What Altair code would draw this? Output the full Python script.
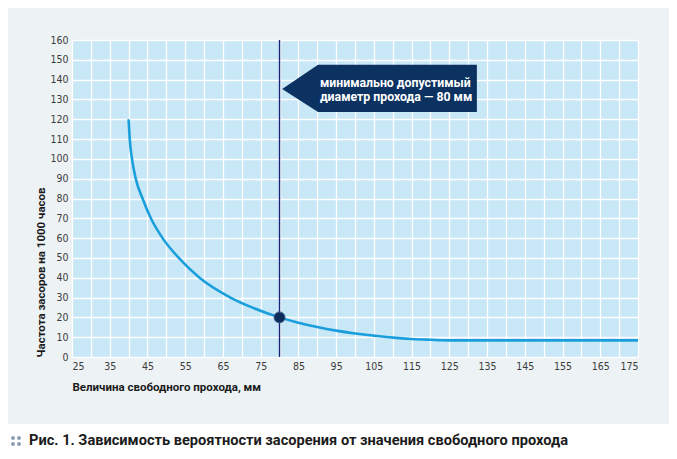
import altair as alt
import pandas as pd

# curve (mm -> clogs per 1000 h)
x_mm = [40, 40.3, 40.9, 41.9, 43.7, 45.9, 49, 53.3, 58.8, 67, 73, 80,
        85, 90, 95, 100, 105, 110, 115, 120, 125, 135, 145, 155, 165, 175]
freq = [120, 110, 100, 90, 80, 70, 60, 50, 40, 30, 24.8, 20,
        17.3, 15.1, 13.3, 11.9, 10.8, 9.8, 9.1, 8.7, 8.4, 8.4, 8.4, 8.4, 8.4, 8.4]

min_x = [80]
min_y = [20]

# callout arrow (tip, box corner, box end) in data units
arrow_x = [80.7, 90.2, 132.3]
arrow_top = [135.3, 147.5, 147.5]
arrow_bottom = [135.3, 123.7, 123.7]
note_lines = ["минимально допустимый", "диаметр прохода — 80 мм"]
note_x = [90.7, 90.7]
note_y = [138.3, 131.2]

x_ticks = list(range(25, 176, 5))
y_ticks = list(range(0, 161, 10))

caption = "Рис. 1. Зависимость вероятности засорения от значения свободного прохода"

NARROW = "Liberation Sans Narrow, DejaVu Sans Condensed, Roboto, sans-serif"

curve_df = pd.DataFrame({"x": x_mm, "y": freq})
min_df = pd.DataFrame({"x": min_x, "y": min_y})
arrow_df = pd.DataFrame({"x": arrow_x, "top": arrow_top, "bottom": arrow_bottom})
note_df = pd.DataFrame({"x": note_x, "y": note_y, "t": note_lines})
one = pd.DataFrame({"a": [0]})

xs = alt.Scale(domain=[25, 175], nice=False, zero=False)
ys = alt.Scale(domain=[0, 160], nice=False)

x_axis = alt.Axis(
    values=x_ticks,
    labelExpr="datum.value % 10 == 5 ? datum.label : ''",
    title="Величина свободного прохода, мм",
    titleAnchor="start",
    titlePadding=10,
)
y_axis = alt.Axis(
    values=y_ticks,
    title="Частота засоров на 1000 часов",
    titleAnchor="start",
    titlePadding=3,
)

X = lambda f: alt.X(f, scale=xs, axis=x_axis)
Y = lambda f: alt.Y(f, scale=ys, axis=y_axis)

arrow = (
    alt.Chart(arrow_df)
    .mark_area(color="#0b3260", opacity=1, interpolate="linear")
    .encode(x=X("x:Q"), y=Y("top:Q"), y2="bottom:Q")
)

rule = alt.Chart(min_df).mark_rule(color="#1d2576", strokeWidth=1.4).encode(x=X("x:Q"))

line = (
    alt.Chart(curve_df)
    .mark_line(color="#1a9fdc", strokeWidth=2.6, interpolate="monotone")
    .encode(x=X("x:Q"), y=Y("y:Q"))
)

dot = (
    alt.Chart(min_df)
    .mark_point(filled=True, size=120, color="#0c2d5c", stroke="#3d5d8c", strokeWidth=1, opacity=1)
    .encode(x=X("x:Q"), y=Y("y:Q"))
)

note = (
    alt.Chart(note_df)
    .mark_text(align="left", baseline="middle", color="white", font="Roboto",
               fontWeight="bold", fontSize=12.3)
    .encode(x=X("x:Q"), y=Y("y:Q"), text="t:N")
)

# white strip under the grey panel for the caption
strip = alt.Chart(one).mark_rect(color="white").encode(
    x=alt.value(-64), x2=alt.value(600), y=alt.value(384), y2=alt.value(420)
)

# the little four-dot bullet before the caption
bullet = [
    alt.Chart(one).mark_circle(size=16, color="#8ca0b2", opacity=1).encode(
        x=alt.value(bx), y=alt.value(by)
    )
    for bx in (-59, -53)
    for by in (398, 404)
]

cap = alt.Chart(one).mark_text(
    text=caption, align="left", baseline="middle", color="#1b1b1b",
    font="Roboto", fontWeight="bold", fontSize=14.6,
).encode(x=alt.value(-43), y=alt.value(401))

chart = (
    alt.layer(arrow, rule, line, dot, note, strip, *bullet, cap)
    .properties(
        width=566,
        height=317,
        background="#edf2f5",
        autosize=alt.AutoSizeParams(type="none"),
        padding={"left": 64, "top": 32, "right": 31, "bottom": 94},
    )
    .configure_view(fill="#c8e7f7", stroke=None)
    .configure_axis(
        grid=True,
        gridColor="white",
        gridWidth=1.3,
        gridOpacity=1,
        domain=False,
        ticks=False,
        labelFont=NARROW,
        labelFontSize=10.5,
        labelColor="#3c3c3c",
        labelPadding=4,
        labelOverlap=False,
        titleFont="Roboto",
        titleFontSize=11.5,
        titleFontWeight="bold",
        titleColor="#1b1b1b",
    )
)

chart.save("out.html", embed_options={"renderer": "svg", "actions": False})
